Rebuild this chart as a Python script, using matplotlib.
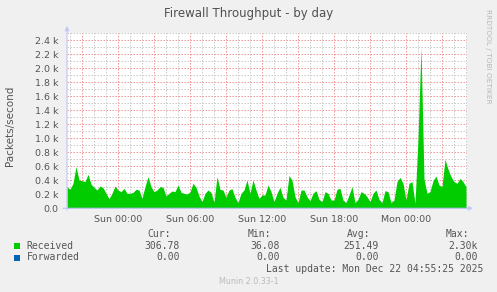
import numpy as np
import matplotlib.pyplot as plt
from matplotlib.patches import Rectangle
from matplotlib.ticker import MultipleLocator, FuncFormatter

# packets/second, one sample every 15 minutes
received = [
    309, 271, 357, 595, 404, 395, 381, 485, 347, 300, 261, 318, 295, 214, 138, 214, 318,
    261, 238, 285, 214, 214, 228, 271, 261, 142, 309, 452, 309, 238, 261, 309, 300, 176,
    214, 247, 238, 333, 228, 214, 204, 233, 357, 300, 176, 95, 214, 261, 228, 85, 452,
    271, 261, 157, 261, 280, 157, 80, 214, 261, 404, 214, 404, 261, 142, 190, 190,
    333, 238, 95, 214, 300, 157, 119, 470, 400, 166, 80, 261, 261, 166, 109, 214, 252,
    128, 95, 238, 214, 119, 119, 271, 285, 119, 80, 190, 309, 80, 128, 238, 214,
    166, 95, 214, 261, 128, 80, 252, 238, 80, 119, 381, 442, 357, 119, 357, 381, 71,
    1000, 2300, 420, 214, 238, 395, 461, 333, 309, 700, 560, 452, 381, 357, 428, 381, 307,
]
forwarded = [0.0] * len(received)

# hours relative to Sun 00:00
start_hour = -4.275
end_hour = 29.058
hours = start_hour + 0.25 * np.arange(len(received))

tick_hours = [0, 6, 12, 18, 24]
tick_labels = ["Sun 00:00", "Sun 06:00", "Sun 12:00", "Sun 18:00", "Mon 00:00"]

names = ["Received", "Forwarded"]
colors = ["#00cc00", "#0066b3"]
cur_vals = ["306.78", "0.00"]
min_vals = ["36.08", "0.00"]
avg_vals = ["251.49", "0.00"]
max_vals = ["2.30k", "0.00"]

W, H = 497, 292
BG = "#f0f0f0"
TXT = "#555555"
MONO = "DejaVu Sans Mono"


def px(x, y):
    return x / W, 1 - y / H


fig = plt.figure(figsize=(W / 100, H / 100), dpi=100, facecolor=BG)
top, bottom = 33.0, 208.3
ax = fig.add_axes([67 / W, (H - bottom) / H, 400 / W, (bottom - top) / H])
ax.set_facecolor("white")
for s in ax.spines.values():
    s.set_visible(False)

ax.fill_between(hours, received, color=colors[0], lw=0, zorder=3)
ax.plot(hours, forwarded, color=colors[1], lw=0.8, zorder=4)

ax.set_xlim(start_hour, end_hour)
ax.set_ylim(0, (bottom - top) / 70 * 1000)

ax.xaxis.set_major_locator(MultipleLocator(3))
ax.xaxis.set_minor_locator(MultipleLocator(1))
ax.yaxis.set_major_locator(MultipleLocator(200))
ax.yaxis.set_minor_locator(MultipleLocator(100))


def xfmt(v, pos):
    for h, lab in zip(tick_hours, tick_labels):
        if abs(v - h) < 1e-6:
            return lab
    return ""


def yfmt(v, pos):
    if abs(v) < 1e-6:
        return "0.0"
    return f"{v / 1000:.1f} k"


ax.xaxis.set_major_formatter(FuncFormatter(xfmt))
ax.yaxis.set_major_formatter(FuncFormatter(yfmt))
ax.tick_params(axis="both", which="both", length=0, labelsize=6.8, labelcolor=TXT)
ax.tick_params(axis="x", pad=5)
ax.tick_params(axis="y", pad=6)

ax.set_axisbelow(True)
ax.grid(which="minor", color="#cccccc", lw=0.72, ls=(0, (1.5, 1.5)))
ax.grid(which="major", color="#f29999", lw=0.72, ls=(0, (1.5, 1.5)))

arrow = dict(arrowstyle="-|>", color="#c4c8f4", lw=0.9, mutation_scale=6, shrinkA=0, shrinkB=0)
ax.annotate("", xy=(0, 1.04), xytext=(0, -0.01), xycoords="axes fraction",
            textcoords="axes fraction", arrowprops=arrow, annotation_clip=False)
ax.annotate("", xy=(1.015, 0), xytext=(-0.01, 0), xycoords="axes fraction",
            textcoords="axes fraction", arrowprops=arrow, annotation_clip=False)

fig.text(*px(248.5, 13), "Firewall Throughput - by day", ha="center", va="center",
         fontsize=8.5, color="#505050")
fig.text(*px(10, 126), "Packets/second", rotation=90, ha="center", va="center",
         fontsize=7.5, color=TXT)
fig.text(*px(488, 56), "RRDTOOL / TOBI OETIKER", rotation=270, ha="center", va="center",
         fontsize=5.3, color="#b8b8b8")

# legend block
mono = dict(fontfamily=MONO, fontsize=7, color=TXT, va="center")
fig.text(*px(171, 234), "Cur:", ha="right", **mono)
fig.text(*px(271, 234), "Min:", ha="right", **mono)
fig.text(*px(370, 234), "Avg:", ha="right", **mono)
fig.text(*px(469.5, 234), "Max:", ha="right", **mono)
rows_y = [246, 257.5]
for name, col, c, mn, av, mx, y in zip(names, colors, cur_vals, min_vals, avg_vals,
                                       max_vals, rows_y):
    fig.add_artist(Rectangle(px(14, y + 3), 6 / W, 6 / H, transform=fig.transFigure,
                             facecolor=col, edgecolor="none"))
    fig.text(*px(26.5, y), name, ha="left", **mono)
    fig.text(*px(179.5, y), c, ha="right", **mono)
    fig.text(*px(279.5, y), mn, ha="right", **mono)
    fig.text(*px(378.5, y), av, ha="right", **mono)
    fig.text(*px(477.5, y), mx, ha="right", **mono)
fig.text(*px(483.5, 269.5), "Last update: Mon Dec 22 04:55:25 2025", ha="right", **mono)
fig.text(*px(248.5, 281.5), "Munin 2.0.33-1", ha="center", va="center",
         fontsize=5.8, color="#bbbbbb")

fig.savefig("out.png", dpi=100, facecolor=BG)
